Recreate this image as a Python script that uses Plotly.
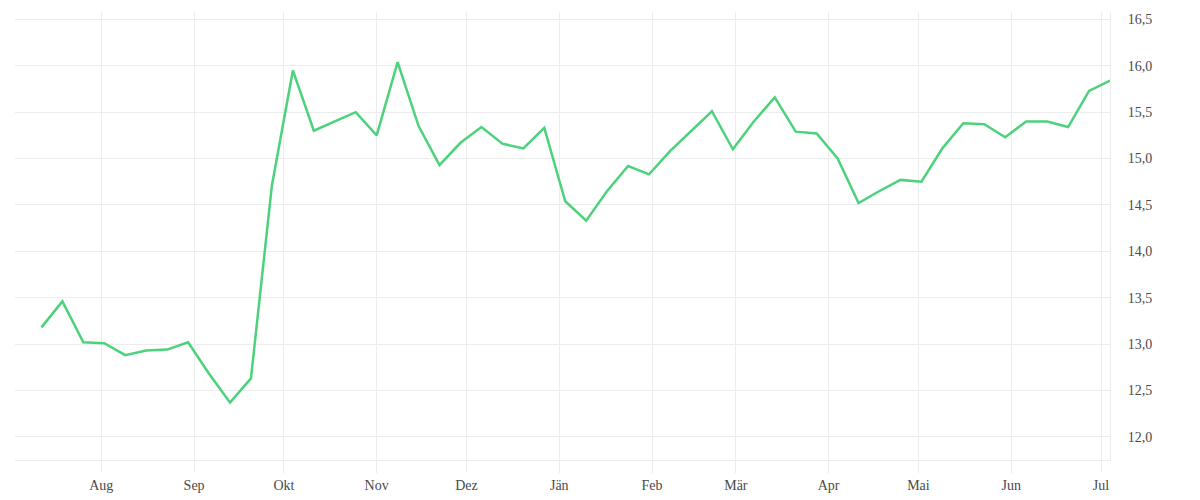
"""
Weekly price line, German (Austrian) month labels, y axis on the right.
"""

import pandas as pd
import plotly.graph_objects as go

# ---------- data ----------

START_DATE = "2018-07-12"   # first weekly observation
N_WEEKS = 52

PRICES = [
    13.18, 13.46, 13.02, 13.01, 12.88, 12.93, 12.94, 13.02, 12.68, 12.37,
    12.63, 14.71, 15.95, 15.30, 15.40, 15.50, 15.25, 16.04, 15.35, 14.93,
    15.17, 15.34, 15.16, 15.11, 15.33, 14.54, 14.33, 14.65, 14.92, 14.83,
    15.08, 15.29, 15.51, 15.10, 15.40, 15.66, 15.29, 15.27, 15.00, 14.52,
    14.65, 14.77, 14.75, 15.11, 15.38, 15.37, 15.23, 15.40, 15.40, 15.34,
    15.73, 15.84,
]

MONTH_TICKS = [
    "2018-08-01", "2018-09-01", "2018-10-01", "2018-11-01", "2018-12-01",
    "2019-01-01", "2019-02-01", "2019-03-01", "2019-04-01", "2019-05-01",
    "2019-06-01", "2019-07-01",
]
MONTH_LABELS = ["Aug", "Sep", "Okt", "Nov", "Dez", "Jän",
                "Feb", "Mär", "Apr", "Mai", "Jun", "Jul"]

Y_TICKS = [12.0, 12.5, 13.0, 13.5, 14.0, 14.5, 15.0, 15.5, 16.0, 16.5]

GRID = "#ececec"
FONT = "Liberation Serif"

dates = pd.date_range(START_DATE, periods=N_WEEKS, freq="7D")

fig = go.Figure()
fig.add_trace(go.Scatter(
    x=dates, y=PRICES, mode="lines",
    line=dict(color="#4cd27b", width=2.5),
    showlegend=False,
))

# page body adds 8px, margins compensate for it
fig.update_layout(
    width=1200, height=500,
    margin=dict(l=7, r=98, t=4, b=48),
    plot_bgcolor="white", paper_bgcolor="white",
    separators=",.",
    font=dict(family=FONT, size=14, color="#4a4a4a"),
)
fig.update_xaxes(
    range=["2018-07-03 04:00", "2019-07-04"],
    tickvals=MONTH_TICKS, ticktext=MONTH_LABELS,
    showgrid=True, gridcolor=GRID, gridwidth=1,
    ticks="outside", ticklen=12, tickcolor=GRID,
    showline=True, linecolor=GRID, linewidth=1,
    zeroline=False,
)
fig.update_yaxes(
    side="right",
    range=[11.75, 16.58],
    tickvals=Y_TICKS, tickformat=".1f",
    showgrid=True, gridcolor=GRID, gridwidth=1,
    showline=True, linecolor=GRID, linewidth=1,
    ticklabelstandoff=14,
    zeroline=False,
)

fig.write_html("out.html")
